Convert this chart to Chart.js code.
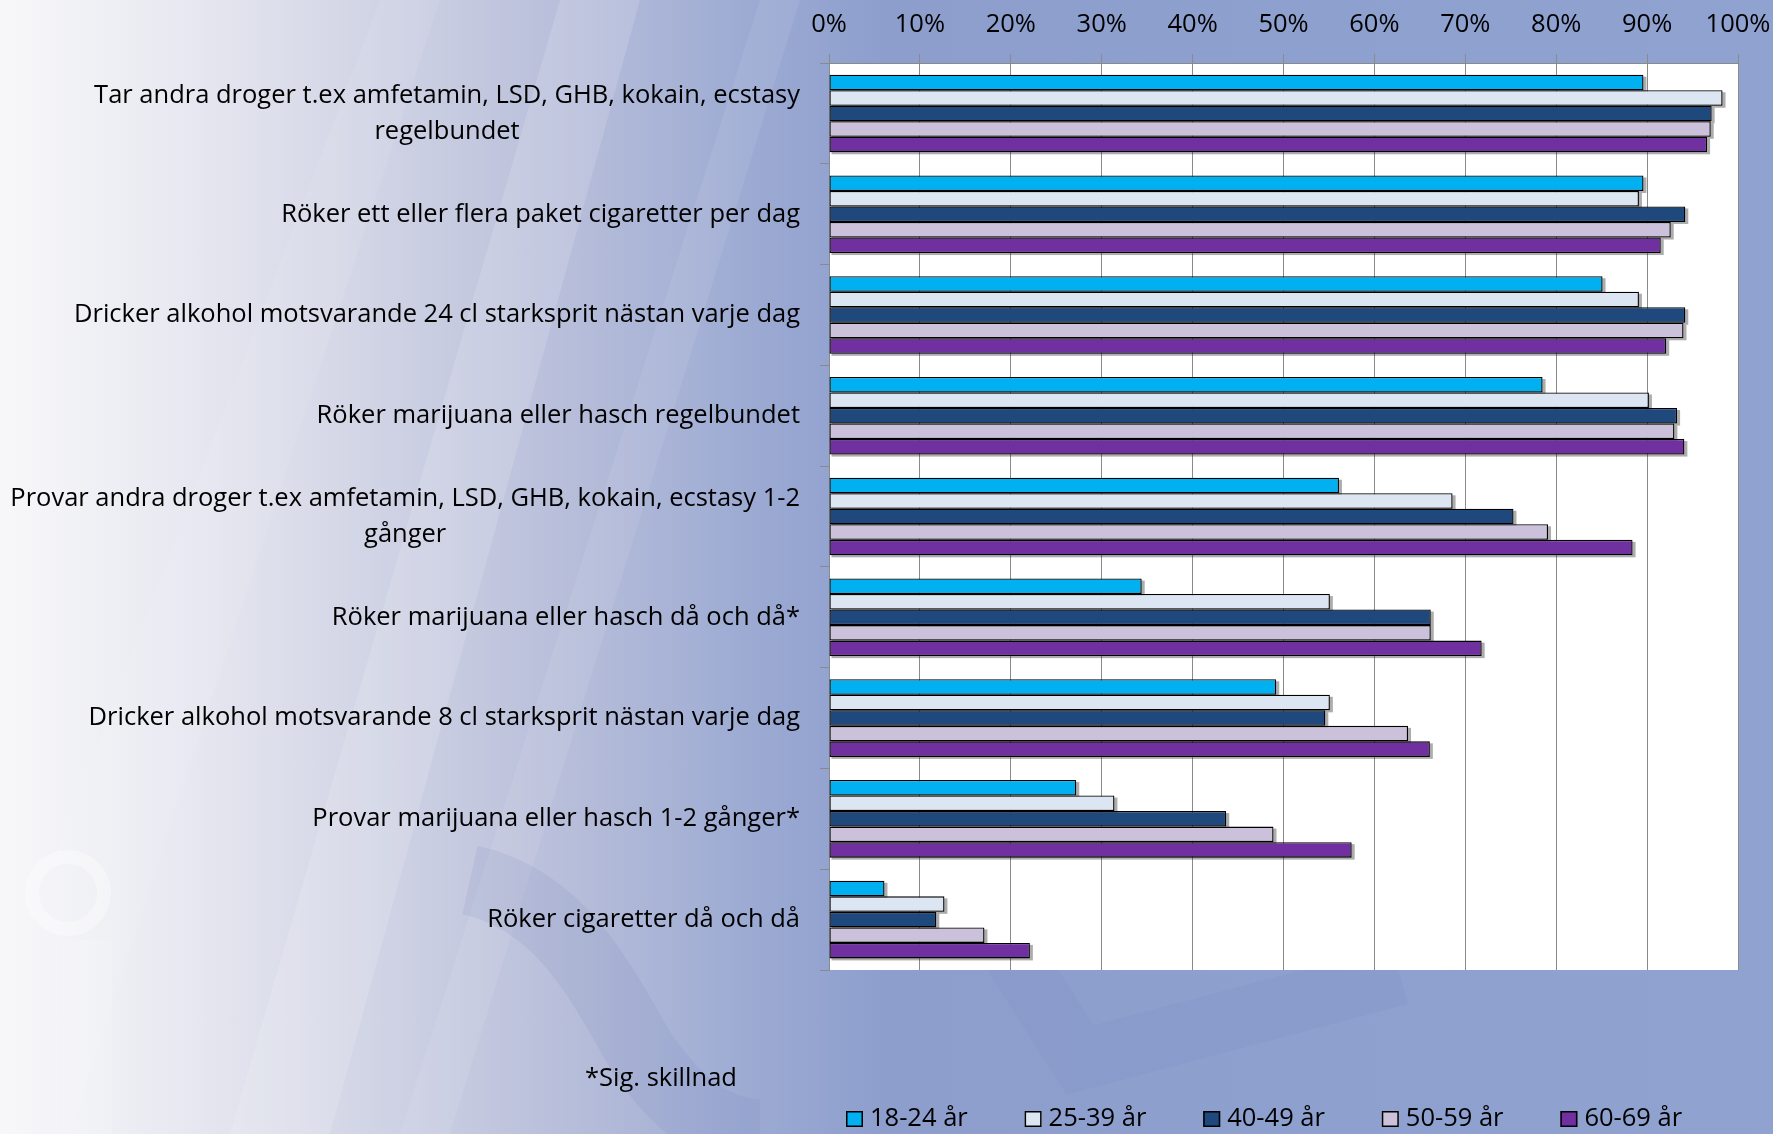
<!DOCTYPE html>
<html>
<head>
<meta charset="utf-8">
<script src="https://cdn.jsdelivr.net/npm/chart.js"></script>
<style>
html,body{margin:0;padding:0;width:1773px;height:1134px;overflow:hidden;}
#wrap{position:relative;width:1773px;height:1134px;}
#bg{position:absolute;left:0;top:0;}
#c{position:absolute;left:0;top:0;}
</style>
</head>
<body>
<div id="wrap">
<svg id="bg" width="1773" height="1134" xmlns="http://www.w3.org/2000/svg">
  <defs>
    <linearGradient id="g" x1="0" x2="1" y1="0" y2="0">
      <stop offset="0" stop-color="#f8f8fa"/>
      <stop offset="0.10" stop-color="#e8e9f1"/>
      <stop offset="0.22" stop-color="#cfd2e4"/>
      <stop offset="0.33" stop-color="#b5bcd9"/>
      <stop offset="0.42" stop-color="#9dabd3"/>
      <stop offset="0.50" stop-color="#8d9ecd"/>
      <stop offset="1" stop-color="#8fa2d0"/>
    </linearGradient>
  </defs>
  <rect width="1773" height="1134" fill="url(#g)"/>
  <polygon points="560,0 640,0 330,1134 230,1134" fill="#ffffff" fill-opacity="0.14"/>
  <polygon points="760,0 800,0 450,1134 400,1134" fill="#ffffff" fill-opacity="0.08"/>
  <polygon points="380,0 440,0 70,1134 0,1134 0,1000" fill="#ffffff" fill-opacity="0.08"/>
  <circle cx="68" cy="893" r="36" fill="none" stroke="#ffffff" stroke-opacity="0.35" stroke-width="14"/>
  <rect x="62" y="940" width="50" height="194" fill="#ffffff" fill-opacity="0.15"/>
  <path d="M470,880 C560,900 600,980 640,1050 C680,1110 720,1134 760,1134" fill="none" stroke="#6b7fb8" stroke-opacity="0.12" stroke-width="70"/>
  <path d="M1010,950 L1080,1060 L1400,975" fill="none" stroke="#6b7fb8" stroke-opacity="0.10" stroke-width="60"/>
</svg>
<canvas id="c" width="1773" height="1134"></canvas>
</div>
<script>
const categories = [
  ["Tar andra droger t.ex amfetamin, LSD, GHB, kokain, ecstasy", "regelbundet"],
  ["Röker ett eller flera paket cigaretter per dag"],
  ["Dricker alkohol motsvarande 24 cl starksprit nästan varje dag"],
  ["Röker marijuana eller hasch regelbundet"],
  ["Provar andra droger t.ex amfetamin, LSD, GHB, kokain, ecstasy 1-2", "gånger"],
  ["Röker marijuana eller hasch då och då*"],
  ["Dricker alkohol motsvarande 8 cl starksprit nästan varje dag"],
  ["Provar marijuana eller hasch 1-2 gånger*"],
  ["Röker cigaretter då och då"]
];
const seriesNames = ["18-24 år", "25-39 år", "40-49 år", "50-59 år", "60-69 år"];
const age18_24 = [89.6, 89.6, 85.1, 78.5, 56.1, 34.4, 49.2, 27.2, 6.1];
const age25_39 = [98.3, 89.1, 89.1, 90.2, 68.6, 55.1, 55.1, 31.4, 12.7];
const age40_49 = [97.1, 94.2, 94.2, 93.3, 75.3, 66.2, 54.6, 43.7, 11.8];
const age50_59 = [97.0, 92.6, 94.0, 93.0, 79.1, 66.2, 63.7, 48.9, 17.1];
const age60_69 = [96.6, 91.5, 92.1, 94.1, 88.4, 71.8, 66.1, 57.5, 22.1];
const tickLabels = ["0%", "10%", "20%", "30%", "40%", "50%", "60%", "70%", "80%", "90%", "100%"];
const footnote = "*Sig. skillnad";

const colors = ["#00B0F0", "#DCE6F2", "#1F497D", "#CCC1DA", "#7030A0"];
const FONT = '"Open Sans", sans-serif';
const FS = 25.5;

const bgPlugin = {
  id: 'plotBg',
  beforeDraw(chart) {
    const {ctx, chartArea: a} = chart;
    ctx.save();
    ctx.fillStyle = '#ffffff';
    ctx.fillRect(a.left, a.top, a.right - a.left, a.bottom - a.top);
    ctx.restore();
  }
};

const shadowPlugin = {
  id: 'barShadow',
  beforeDatasetsDraw(chart) {
    const ctx = chart.ctx;
    ctx.save();
    ctx.fillStyle = 'rgba(40,40,40,0.38)';
    chart.data.datasets.forEach((ds, di) => {
      const meta = chart.getDatasetMeta(di);
      meta.data.forEach(bar => {
        const p = bar.getProps(['x', 'y', 'base', 'height'], true);
        const top = p.y - p.height / 2;
        ctx.fillRect(p.base + 2, top + 2, p.x - p.base + 1, p.height);
      });
    });
    ctx.restore();
  }
};

const labelPlugin = {
  id: 'catLabels',
  afterDraw(chart) {
    const {ctx} = chart;
    const ys = chart.scales.y;
    const rightX = 800;
    const lineGap = 36;
    ctx.save();
    ctx.font = FS + 'px ' + FONT;
    ctx.fillStyle = '#000000';
    ctx.textBaseline = 'middle';
    ctx.textAlign = 'center';
    chart.data.labels.forEach((lines, i) => {
      const yc = ys.getPixelForValue(i);
      const w = Math.max(...lines.map(l => ctx.measureText(l).width));
      const cx = rightX - w / 2;
      const n = lines.length;
      lines.forEach((l, k) => {
        ctx.fillText(l, cx, yc + (k - (n - 1) / 2) * lineGap);
      });
    });
    ctx.textAlign = 'left';
    ctx.fillText(footnote, 585, 1079);

    // legend
    const lx0 = 846, step = 178.6, boxW = 17, boxH = 16, ly = 1119;
    chart.data.datasets.forEach((ds, i) => {
      const x = lx0 + i * step;
      ctx.fillStyle = ds.backgroundColor;
      ctx.fillRect(x, ly - boxH / 2, boxW, boxH);
      ctx.strokeStyle = '#000000';
      ctx.lineWidth = 1.5;
      ctx.strokeRect(x + 0.75, ly - boxH / 2 + 0.75, boxW - 1.5, boxH - 1.5);
      ctx.fillStyle = '#000000';
      ctx.fillText(ds.label, x + boxW + 7, ly);
    });
    ctx.restore();
  }
};

function draw() {
  const seriesData = [age18_24, age25_39, age40_49, age50_59, age60_69];
  new Chart(document.getElementById('c'), {
    type: 'bar',
    data: {
      labels: categories,
      datasets: seriesData.map((d, i) => ({
        label: seriesNames[i],
        data: d,
        backgroundColor: colors[i],
        borderColor: '#000000',
        borderWidth: 1.3,
        borderSkipped: false,
        categoryPercentage: 0.77,
        barPercentage: 1.0
      }))
    },
    options: {
      indexAxis: 'y',
      responsive: false,
      animation: false,
      devicePixelRatio: 1,
      layout: { padding: { left: 0, right: 35, top: -3.9, bottom: 164 } },
      plugins: {
        tooltip: { enabled: false },
        legend: { display: false }
      },
      scales: {
        x: {
          position: 'top',
          min: 0,
          max: 100,
          ticks: {
            stepSize: 10,
            color: '#000000',
            padding: 13.7,
            font: { family: FONT, size: FS },
            callback: (v, i) => tickLabels[i]
          },
          grid: { color: '#8a8a8a', lineWidth: 1, tickLength: 9 },
          border: { color: '#8a8a8a', width: 1 },
          afterFit: s => { s.paddingRight = 0; s.paddingLeft = 0; }
        },
        y: {
          ticks: { display: false },
          grid: { drawOnChartArea: false, tickLength: 9, color: '#8a8a8a', offset: true },
          border: { color: '#8a8a8a', width: 1 },
          afterFit: s => { s.width = 829; }
        }
      }
    },
    plugins: [bgPlugin, shadowPlugin, labelPlugin]
  });
}

if (document.fonts && document.fonts.load) {
  document.fonts.load(FS + 'px "Open Sans"').then(draw, draw);
} else {
  draw();
}
</script>
</body>
</html>
